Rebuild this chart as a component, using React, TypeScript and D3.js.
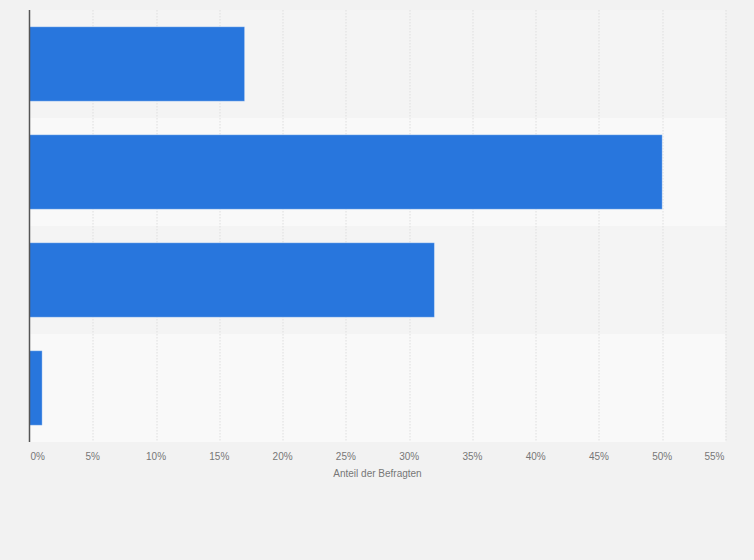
import { useEffect, useRef } from 'react'
import * as d3 from 'd3'

// Antworten (keine Kategorienbeschriftung im Bild sichtbar)
const categories = ['Antwort 1', 'Antwort 2', 'Antwort 3', 'Antwort 4']
const shares = [17, 50, 32, 1]
const tickValues = [0, 5, 10, 15, 20, 25, 30, 35, 40, 45, 50, 55]
const axisTitle = 'Anteil der Befragten'

const W = 754
const H = 560

export default function App() {
  const svgRef = useRef<SVGSVGElement>(null)

  useEffect(() => {
    if (!svgRef.current) return
    const svg = d3.select(svgRef.current)
    svg.selectAll('*').remove()

    const margin = { top: 10, right: 28.5, bottom: 118, left: 29.5 }
    const chartW = W - margin.left - margin.right
    const chartH = H - margin.top - margin.bottom

    svg.append('rect').attr('width', W).attr('height', H).attr('fill', '#f2f2f2')

    const x = d3.scaleLinear().domain([0, 55]).range([0, chartW])
    const y = d3
      .scaleBand()
      .domain(categories)
      .range([0, chartH])
      .paddingInner(0.31)
      .paddingOuter(0.155)

    const g = svg.append('g').attr('transform', `translate(${margin.left},${margin.top})`)

    // alternating row bands
    const step = chartH / categories.length
    g.selectAll('.band')
      .data(categories)
      .enter()
      .append('rect')
      .attr('x', 0)
      .attr('y', (_, i) => i * step)
      .attr('width', chartW)
      .attr('height', step)
      .attr('fill', (_, i) => (i % 2 === 0 ? '#f4f4f4' : '#f9f9f9'))

    // grid lines
    g.selectAll('.grid')
      .data(tickValues.slice(1))
      .enter()
      .append('line')
      .attr('x1', d => Math.round(x(d)) + 0.5)
      .attr('x2', d => Math.round(x(d)) + 0.5)
      .attr('y1', 0)
      .attr('y2', chartH)
      .attr('stroke', '#dedede')
      .attr('stroke-width', 1)
      .attr('stroke-dasharray', '1.5,1.5')

    // bars
    g.selectAll('.bar')
      .data(shares)
      .enter()
      .append('rect')
      .attr('x', 0)
      .attr('y', (_, i) => y(categories[i])!)
      .attr('width', d => x(d))
      .attr('height', y.bandwidth())
      .attr('fill', '#2876dd')
      .attr('stroke', 'rgba(255,255,255,0.35)')
      .attr('stroke-width', 1)

    // y axis line
    g.append('line')
      .attr('x1', 0)
      .attr('x2', 0)
      .attr('y1', 0)
      .attr('y2', chartH)
      .attr('stroke', '#555')
      .attr('stroke-width', 1.5)

    // tick labels
    g.selectAll('.tick-label')
      .data(tickValues)
      .enter()
      .append('text')
      .attr('x', (d, i) => (i === 0 ? x(d) + 1 : i === tickValues.length - 1 ? x(d) - 1 : x(d)))
      .attr('y', chartH + 18)
      .attr('text-anchor', (_, i) => (i === 0 ? 'start' : i === tickValues.length - 1 ? 'end' : 'middle'))
      .attr('font-family', '"Liberation Sans", Arial, sans-serif')
      .attr('font-size', '10px')
      .attr('fill', '#777')
      .text(d => `${d}%`)

    // axis title
    g.append('text')
      .attr('x', chartW / 2)
      .attr('y', chartH + 35)
      .attr('text-anchor', 'middle')
      .attr('font-family', '"Liberation Sans", Arial, sans-serif')
      .attr('font-size', '10px')
      .attr('fill', '#777')
      .text(axisTitle)
  }, [])

  return (
    <div style={{ position: 'absolute', top: 0, left: 0 }}>
      <svg ref={svgRef} width={W} height={H} style={{ display: 'block' }} />
    </div>
  )
}
